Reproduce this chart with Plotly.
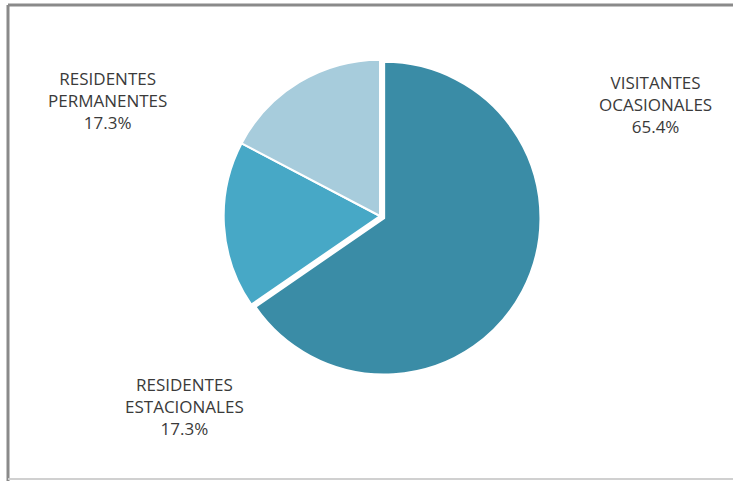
import plotly.graph_objects as go

# Distribución por tipo de usuario
categorias = ["VISITANTES<br>OCASIONALES", "RESIDENTES<br>ESTACIONALES", "RESIDENTES<br>PERMANENTES"]
porcentajes = [65.4, 17.3, 17.3]
colores = ["#3A8CA6", "#47A8C6", "#A7CCDC"]
separacion = [0.03, 0.0, 0.0]

# Posición de cada etiqueta (fracción del lienzo)
etiqueta_x = [655 / 733, 184 / 733, 107 / 733]
etiqueta_y = [1 - 105 / 481, 1 - 406 / 481, 1 - 100 / 481]

W, H = 733, 481
cx, cy, d = 380, 216, 322

fig = go.Figure(
    go.Pie(
        labels=categorias,
        values=porcentajes,
        sort=False,
        direction="clockwise",
        rotation=0,
        pull=separacion,
        marker=dict(colors=colores, line=dict(color="white", width=2)),
        textinfo="none",
        hoverinfo="label+percent",
        showlegend=False,
        domain=dict(
            x=[(cx - d / 2) / W, (cx + d / 2) / W],
            y=[1 - (cy + d / 2) / H, 1 - (cy - d / 2) / H],
        ),
    )
)

for cat, val, x, y in zip(categorias, porcentajes, etiqueta_x, etiqueta_y):
    fig.add_annotation(
        x=x, y=y, xref="paper", yref="paper",
        text=f"{cat}<br>{val:.1f}%",
        showarrow=False,
        xanchor="center", yanchor="middle",
        align="center",
        font=dict(family="Open Sans", size=17, color="#3a3a3a"),
    )

# Marco del gráfico
fig.add_shape(type="line", xref="paper", yref="paper",
              x0=8 / W, x1=1, y0=1 - 5 / H, y1=1 - 5 / H,
              line=dict(color="#8a8a8a", width=3))
fig.add_shape(type="line", xref="paper", yref="paper",
              x0=8 / W, x1=8 / W, y0=0, y1=1 - 5 / H,
              line=dict(color="#8a8a8a", width=3))
fig.add_shape(type="line", xref="paper", yref="paper",
              x0=8 / W, x1=1, y0=2 / H, y1=2 / H,
              line=dict(color="#d0d0d0", width=2))

fig.update_layout(
    width=W, height=H,
    margin=dict(l=0, r=0, t=0, b=0),
    paper_bgcolor="white",
    plot_bgcolor="white",
)

fig.write_html("out.html")
